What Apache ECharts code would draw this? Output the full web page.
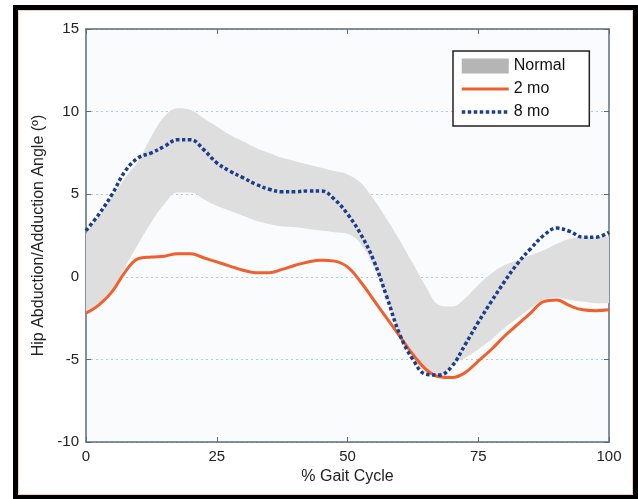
<!DOCTYPE html>
<html>
<head>
<meta charset="utf-8">
<script src="https://cdn.jsdelivr.net/npm/echarts/dist/echarts.min.js"></script>
<style>
  html, body { margin: 0; padding: 0; background: #ffffff; }
  #chart { position: absolute; left: 0; top: 0; width: 638px; height: 499px; }
  .frame { position: absolute; left: 13px; top: 5px; width: 615px; height: 485px;
           border-style: solid; border-color: #000; border-width: 5px 5px 4px 5px; pointer-events: none; }
  .inner { position: absolute; left: 0; top: 0; right: 0; bottom: 0; border: 1px solid #f4cfc0; }
</style>
</head>
<body>
<div id="chart"></div>
<div class="frame"><div class="inner"></div></div>
<script>
// % gait cycle samples
const gait = [0, 2.5, 5, 7.5, 10, 12.5, 15, 17.5, 20, 22.5, 25, 27.5, 30, 32.5, 35, 37.5, 40, 42.5, 45, 47.5,
  50, 52.5, 55, 57.5, 60, 62.5, 65, 67.5, 70, 72.5, 75, 77.5, 80, 82.5, 85, 87.5, 90, 92.5, 95, 97.5, 100];

// normal band (lower / upper edge)
const normalLower = [-2.2, -1.6, -0.9, 0.6, 2.0, 3.3, 4.4, 5.1, 5.1, 4.7, 4.3, 4.0, 3.7, 3.4, 3.2, 3.05, 3.0, 2.9, 2.8, 2.7,
  2.6, 2.0, 0.6, -1.3, -3.5, -4.9, -5.8, -6.0, -5.3, -4.9, -4.4, -3.8, -3.1, -2.5, -1.9, -1.4, -1.25, -1.4, -1.5, -1.6, -1.6];
const normalUpper = [2.6, 3.7, 4.8, 6.0, 7.0, 8.5, 9.7, 10.2, 10.1, 9.6, 9.1, 8.6, 8.2, 7.8, 7.5, 7.2, 7.0, 6.8, 6.6, 6.4,
  6.2, 5.7, 4.7, 3.5, 2.2, 0.8, -0.6, -1.7, -1.8, -1.3, -0.5, 0.2, 0.7, 1.0, 1.3, 1.6, 2.0, 2.3, 2.4, 2.4, 2.45];

// 2 mo
const mo2 = [-2.2, -1.7, -0.9, 0.3, 1.1, 1.2, 1.25, 1.4, 1.4, 1.15, 0.9, 0.65, 0.4, 0.25, 0.25, 0.45, 0.7, 0.9, 1.0, 0.95,
  0.6, -0.3, -1.4, -2.5, -3.6, -4.7, -5.6, -6.05, -6.1, -5.8, -5.1, -4.4, -3.6, -2.9, -2.2, -1.5, -1.4, -1.75, -2.0, -2.05, -2.0];

// 8 mo
const mo8 = [2.8, 3.8, 5.0, 6.4, 7.2, 7.5, 7.9, 8.3, 8.3, 7.7, 6.9, 6.4, 6.0, 5.6, 5.3, 5.15, 5.15, 5.2, 5.2, 4.7,
  3.8, 2.6, 1.0, -1.2, -3.5, -5.0, -5.9, -5.95, -5.4, -4.1, -2.75, -1.5, -0.3, 0.8, 1.7, 2.5, 2.95, 2.75, 2.4, 2.4, 2.7];

const xTicks = [0, 25, 50, 75, 100];

const font = "'Liberation Sans', Arial, Helvetica, sans-serif";
const axisColor = "#5f6b78";
const isTick = (i) => xTicks.includes(gait[i]);

const chart = echarts.init(document.getElementById("chart"));

chart.setOption({
  backgroundColor: "#ffffff",
  animation: false,
  grid: { left: 86, right: 29, top: 29, bottom: 57, show: true, backgroundColor: "#fafbfd", borderWidth: 0 },
  legend: {
    orient: "vertical",
    left: 453,
    top: 51,
    padding: [7, 24, 6, 7],
    itemWidth: 47,
    itemHeight: 15,
    itemGap: 7,
    backgroundColor: "#ffffff",
    borderColor: "#222",
    borderWidth: 1.5,
    selectedMode: false,
    textStyle: { fontFamily: font, fontSize: 16, color: "#111" },
    data: [
      { name: "Normal", icon: "rect", itemStyle: { color: "#b5b5b5" } },
      { name: "2 mo", itemStyle: { opacity: 0 }, lineStyle: { width: 3 } },
      { name: "8 mo", itemStyle: { opacity: 0 }, lineStyle: { width: 3.5 } },
    ],
  },
  xAxis: [
    {
      type: "category",
      data: gait,
      boundaryGap: false,
      name: "% Gait Cycle",
      nameLocation: "middle",
      nameGap: 26,
      nameTextStyle: { fontFamily: font, fontSize: 16, color: "#222" },
      axisLine: { onZero: false, lineStyle: { color: axisColor, width: 1.5 } },
      axisTick: { inside: true, length: 5, interval: isTick, lineStyle: { color: axisColor } },
      axisLabel: { fontFamily: font, fontSize: 15, color: "#222", margin: 7, interval: isTick },
      splitLine: { show: false },
    },
    {
      type: "category",
      data: gait,
      boundaryGap: false,
      position: "top",
      axisLine: { onZero: false, lineStyle: { color: axisColor, width: 1.5 } },
      axisTick: { inside: true, length: 5, interval: isTick, lineStyle: { color: axisColor } },
      axisLabel: { show: false },
      splitLine: { show: false },
    },
  ],
  yAxis: [
    {
      type: "value",
      min: -10,
      max: 15,
      interval: 5,
      name: "Hip Abduction/Adduction Angle (º)",
      nameLocation: "middle",
      nameGap: 37,
      nameTextStyle: { fontFamily: font, fontSize: 16, color: "#222" },
      axisLine: { show: true, onZero: false, lineStyle: { color: axisColor, width: 1.5 } },
      axisTick: { show: true, inside: true, length: 5, lineStyle: { color: axisColor } },
      axisLabel: { fontFamily: font, fontSize: 15, color: "#222", margin: 7 },
      splitLine: { show: true, lineStyle: { color: "#a9cde3", type: [2, 3], width: 1 } },
    },
    {
      type: "value",
      min: -10,
      max: 15,
      interval: 5,
      position: "right",
      axisLine: { show: true, onZero: false, lineStyle: { color: axisColor, width: 1.5 } },
      axisTick: { show: true, inside: true, length: 5, lineStyle: { color: axisColor } },
      axisLabel: { show: false },
      splitLine: { show: false },
    },
  ],
  series: [
    {
      name: "base",
      type: "line",
      stack: "band",
      stackStrategy: "all",
      data: normalLower,
      smooth: 0.4,
      symbol: "none",
      lineStyle: { opacity: 0 },
      silent: true,
      z: 1,
    },
    {
      name: "Normal",
      type: "line",
      stack: "band",
      stackStrategy: "all",
      data: normalUpper.map((u, i) => u - normalLower[i]),
      smooth: 0.4,
      symbol: "none",
      color: "#b5b5b5",
      lineStyle: { opacity: 0 },
      areaStyle: { color: "#dedede", opacity: 1 },
      z: 1,
    },
    {
      name: "2 mo",
      type: "line",
      data: mo2,
      smooth: 0.4,
      symbol: "none",
      color: "#f0602e",
      lineStyle: { color: "#f0602e", width: 3 },
      z: 3,
    },
    {
      name: "8 mo",
      type: "line",
      data: mo8,
      smooth: 0.4,
      symbol: "none",
      color: "#1c3d8c",
      lineStyle: { color: "#1c3d8c", width: 3.5, type: [3.5, 2.5] },
      z: 4,
    },
  ],
});
</script>
</body>
</html>
